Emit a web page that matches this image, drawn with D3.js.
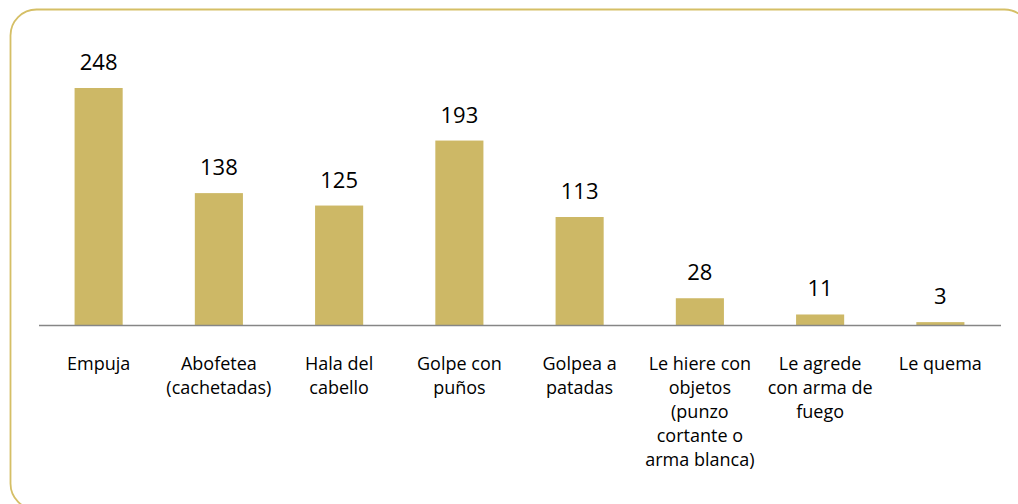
<!DOCTYPE html>
<html>
<head>
<meta charset="utf-8">
<script src="https://cdn.jsdelivr.net/npm/d3@7"></script>
<style>
  body { margin: 0; background: #fff; }
  svg { display: block; font-family: "Open Sans", sans-serif; }
</style>
</head>
<body>
<svg id="chart" width="1018" height="504"></svg>
<script>
// categories (each entry is the wrapped label lines)
const categories = [
  ["Empuja"],
  ["Abofetea", "(cachetadas)"],
  ["Hala del", "cabello"],
  ["Golpe con", "puños"],
  ["Golpea a", "patadas"],
  ["Le hiere con", "objetos", "(punzo", "cortante o", "arma blanca)"],
  ["Le agrede", "con arma de", "fuego"],
  ["Le quema"]
];
const values = [248, 138, 125, 193, 113, 28, 11, 3];

const svg = d3.select("#chart");

// rounded frame, runs off the right and bottom edges
svg.append("rect")
  .attr("x", 10.5).attr("y", 9.5)
  .attr("width", 1020).attr("height", 500)
  .attr("rx", 26).attr("ry", 26)
  .attr("fill", "none")
  .attr("stroke", "#D5BF66")
  .attr("stroke-width", 1.8);

const keys = categories.map((c, i) => i);

const x = d3.scaleBand()
  .domain(keys)
  .range([38.5, 1000.5])
  .paddingInner(0.6)
  .paddingOuter(0.3);

const y = d3.scaleLinear()
  .domain([0, 300])
  .range([325, 38.3]);

// bars
svg.append("g")
  .selectAll("rect")
  .data(values)
  .join("rect")
  .attr("x", (d, i) => x(i))
  .attr("y", d => y(d))
  .attr("width", x.bandwidth())
  .attr("height", d => y(0) - y(d))
  .attr("fill", "#CDB866");

// value labels
svg.append("g")
  .selectAll("text")
  .data(values)
  .join("text")
  .attr("x", (d, i) => x(i) + x.bandwidth() / 2)
  .attr("y", d => y(d) - 18)
  .attr("text-anchor", "middle")
  .attr("font-size", 22)
  .attr("fill", "#000")
  .text(d => d);

// x axis line
const xAxis = svg.append("g")
  .attr("transform", `translate(0,${y(0)})`)
  .call(d3.axisBottom(x).tickSize(0).tickFormat(""));
xAxis.select(".domain").attr("stroke", "#868686").attr("stroke-width", 1.5);

// category labels
const lab = svg.append("g")
  .selectAll("text")
  .data(categories)
  .join("text")
  .attr("x", (d, i) => x(i) + x.bandwidth() / 2)
  .attr("y", y(0) + 45)
  .attr("text-anchor", "middle")
  .attr("font-size", 18)
  .attr("fill", "#000");

lab.selectAll("tspan")
  .data(d => d)
  .join("tspan")
  .attr("x", function () { return d3.select(this.parentNode).attr("x"); })
  .attr("dy", (d, i) => i === 0 ? 0 : 24)
  .text(d => d);
</script>
</body>
</html>
